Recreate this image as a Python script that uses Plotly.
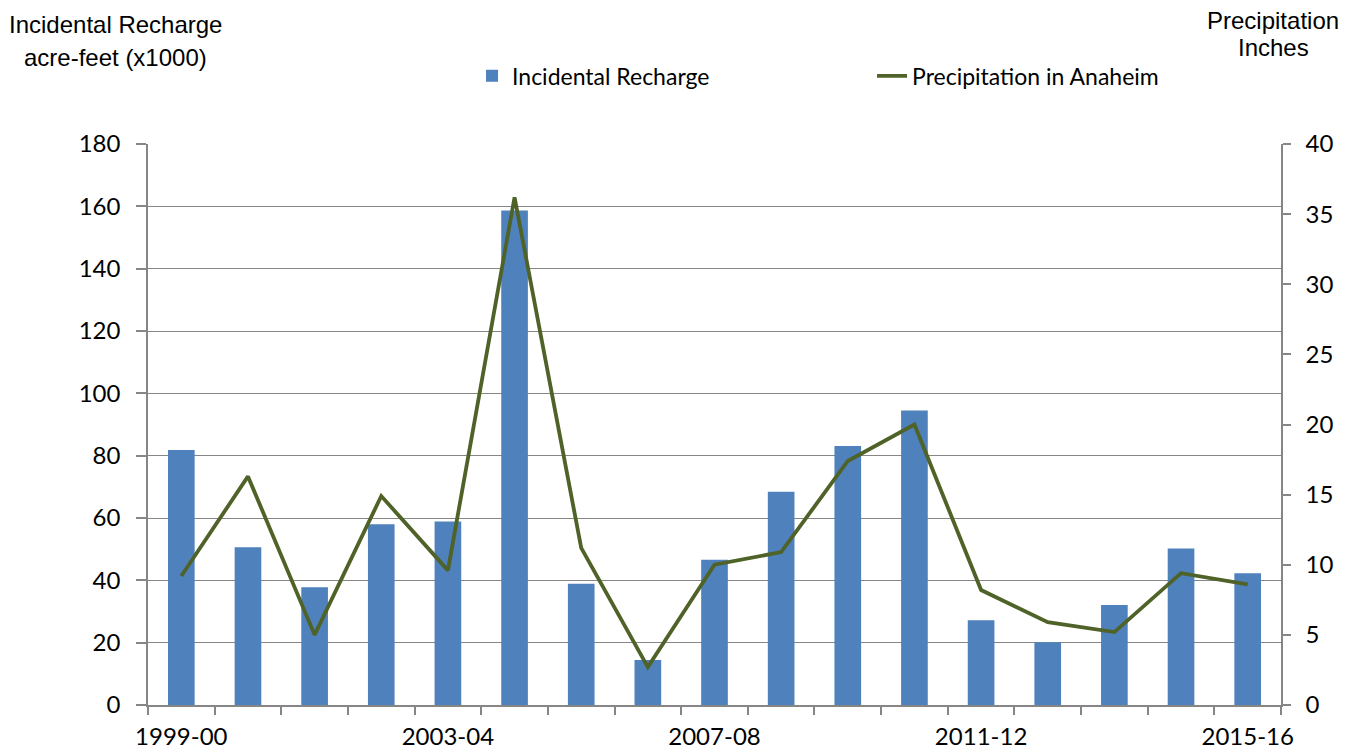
import plotly.graph_objects as go

years = ["1999-00", "2000-01", "2001-02", "2002-03", "2003-04", "2004-05", "2005-06",
         "2006-07", "2007-08", "2008-09", "2009-10", "2010-11", "2011-12", "2012-13",
         "2013-14", "2014-15", "2015-16"]
recharge = [81.8, 50.6, 37.8, 58.0, 58.9, 158.7, 38.9, 14.4, 46.6, 68.4, 83.1,
            94.5, 27.2, 20.1, 32.1, 50.2, 42.3]
precip = [9.2, 16.3, 5.0, 14.9, 9.6, 36.2, 11.2, 2.7, 10.0, 10.9, 17.4,
          20.0, 8.2, 5.9, 5.2, 9.4, 8.6]
shown_labels = ["1999-00", "2003-04", "2007-08", "2011-12", "2015-16"]
tick_text = [y if y in shown_labels else "" for y in years]

GRAY = "#868686"
TICKFONT = dict(family="Lato", size=24, color="#000000")

fig = go.Figure()
fig.add_trace(go.Bar(x=years, y=recharge, name="Incidental Recharge",
                     marker=dict(color="#4F81BD", line=dict(width=0)), yaxis="y"))
fig.add_trace(go.Scatter(x=years, y=precip, name="Precipitation in Anaheim", mode="lines",
                         line=dict(color="#4F6228", width=3.8), yaxis="y2"))

fig.update_layout(
    width=1344, height=743,
    margin=dict(l=140, r=71, t=136, b=46, autoexpand=False),
    paper_bgcolor="white", plot_bgcolor="white",
    bargap=0.6,
    showlegend=True,
    legend=dict(orientation="h", x=0.286, xanchor="left", y=1.1214, yanchor="middle",
                font=dict(family="Lato", size=23, color="#000000"),
                entrywidth=355, entrywidthmode="pixels", traceorder="normal"),
    xaxis=dict(type="category", tickmode="array", tickvals=years, ticktext=tick_text,
               tickson="boundaries", ticks="outside", ticklen=8, tickcolor=GRAY, tickwidth=1.5,
               tickangle=0, automargin=False, ticklabelstandoff=9,
               showline=True, linecolor=GRAY, linewidth=1.5, showgrid=False,
               tickfont=TICKFONT, zeroline=False),
    yaxis=dict(range=[0, 180], dtick=20, tick0=0, showgrid=True, gridcolor=GRAY, gridwidth=1.4,
               showline=True, linecolor=GRAY, linewidth=1.5, ticks="outside", ticklen=10,
               tickcolor=GRAY, tickwidth=1.5, tickfont=TICKFONT, zeroline=False, automargin=False,
               ticklabelstandoff=11),
    yaxis2=dict(range=[0, 40], dtick=5, tick0=0, overlaying="y", side="right", showgrid=False,
                showline=True, linecolor=GRAY, linewidth=1.5, ticks="outside", ticklen=8,
                tickcolor=GRAY, tickwidth=1.5, tickfont=TICKFONT, zeroline=False, automargin=False,
                ticklabelstandoff=10),
)

TITLEFONT = dict(family="Liberation Sans", size=24, color="#000000")
for text, x, y in [("Incidental Recharge", 115, 24), ("acre-feet (x1000)", 115, 57),
                   ("Precipitation", 1273, 20), ("Inches", 1273, 48)]:
    fig.add_annotation(text=text, xref="paper", yref="paper",
                       x=(x - 148) / 1133, y=(705 - y) / 561,
                       xanchor="center", yanchor="middle", showarrow=False, font=TITLEFONT)

fig.write_html("out.html")
